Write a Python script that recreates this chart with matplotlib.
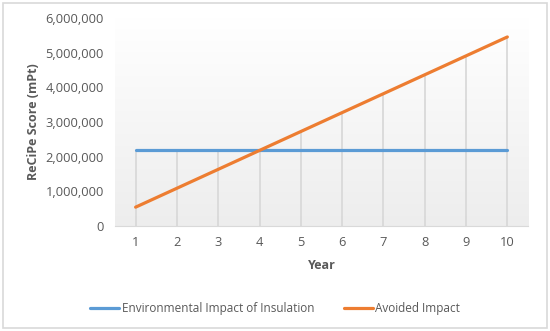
import matplotlib
matplotlib.use("Agg")
import matplotlib.pyplot as plt
import numpy as np
from matplotlib.patches import Rectangle

years = [1, 2, 3, 4, 5, 6, 7, 8, 9, 10]
env_impact = [2200000] * 10
avoided = [545000, 1090000, 1635000, 2180000, 2725000, 3270000, 3815000, 4360000, 4905000, 5450000]
yticks = [0, 1000000, 2000000, 3000000, 4000000, 5000000, 6000000]

plt.rcParams['font.family'] = ['Open Sans', 'DejaVu Sans']
txt = '#595959'

fig = plt.figure(figsize=(5.5, 3.31), dpi=100)
fig.patches.append(Rectangle((0.006, 0.009), 0.988, 0.982, transform=fig.transFigure,
                             fill=False, edgecolor='#D9D9D9', linewidth=1.2))
ax = fig.add_axes([0.209, 0.317, 0.751, 0.629])

x = np.arange(len(years))
ax.set_xlim(-0.5, len(years) - 0.5)
ax.set_ylim(0, 6000000)

# gradient background
grad = np.linspace(1.0, 0.93, 256).reshape(-1, 1)
ax.imshow(np.dstack([grad, grad, grad]), extent=[0, 1, 0, 1], transform=ax.transAxes,
          aspect='auto', zorder=0, origin='upper')

tops = np.maximum(env_impact, avoided)
ax.vlines(x, 0, tops, colors='#D9D9D9', linewidth=1.3, zorder=1)

ax.plot(x, env_impact, color='#5B9BD5', linewidth=2.3, label='Environmental Impact of Insulation', zorder=3, solid_capstyle='round')
ax.plot(x, avoided, color='#ED7D31', linewidth=2.3, label='Avoided Impact', zorder=3, solid_capstyle='round')

ax.set_xticks(x)
ax.set_xticklabels([str(y) for y in years])
ax.set_yticks(yticks)
ax.set_yticklabels([f"{v:,}" for v in yticks])
ax.tick_params(axis='both', length=0, colors=txt, labelsize=9.3)
ax.tick_params(axis='x', pad=7)
ax.tick_params(axis='y', pad=8)
for s in ['top', 'right', 'left']:
    ax.spines[s].set_visible(False)
ax.spines['bottom'].set_color('#D9D9D9')

ax.set_xlabel('Year', fontsize=9, fontweight='bold', color=txt, labelpad=7)
ax.set_ylabel('ReCiPe Score (mPt)', fontsize=9, fontweight='bold', color=txt, labelpad=4)

leg = fig.legend(loc='center', bbox_to_anchor=(0.5, 0.067), ncol=2, frameon=False,
                 fontsize=8.5, handlelength=2.5, columnspacing=2.5, handletextpad=0.2)
for t in leg.get_texts():
    t.set_color(txt)

fig.savefig('out.png', dpi=100)
